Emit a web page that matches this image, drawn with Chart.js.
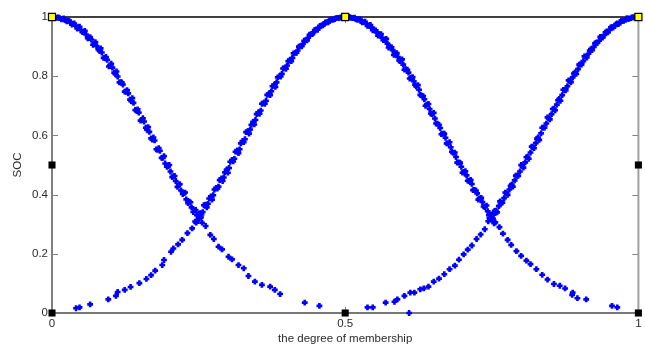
<!DOCTYPE html>
<html><head><meta charset="utf-8">
<script src="https://cdn.jsdelivr.net/npm/chart.js@4"></script>
<style>html,body{margin:0;padding:0;background:#fff;overflow:hidden}</style>
</head><body>
<canvas id="c" width="645" height="347"></canvas>
<script>
// ---- data ----
const degA=[0.000,0.004,0.009,0.013,0.018,0.022,0.027,0.031,0.036,0.040,0.045,0.049,0.054,0.058,0.063,0.067,0.072,0.076,0.081,0.085,0.090,0.094,0.099,0.103,0.108,0.112,0.117,0.121,0.126,0.130,0.135,0.139,0.144,0.148,0.153,0.157,0.162,0.166,0.171,0.175,0.180,0.184,0.189,0.193,0.198,0.202,0.207,0.211,0.216,0.220,0.225,0.229,0.234,0.238,0.243,0.247,0.252,0.256,0.262,0.270,0.276,0.284,0.290,0.301,0.307,0.318,0.327,0.335,0.346,0.358,0.372,0.380,0.389,0.431,0.456];
const socA=[1.000,0.999,0.998,0.996,0.994,0.990,0.987,0.983,0.976,0.971,0.965,0.957,0.949,0.941,0.929,0.924,0.910,0.902,0.886,0.880,0.862,0.855,0.836,0.829,0.808,0.799,0.780,0.772,0.748,0.742,0.716,0.710,0.684,0.677,0.652,0.647,0.619,0.612,0.586,0.583,0.551,0.548,0.524,0.505,0.496,0.478,0.462,0.446,0.434,0.414,0.405,0.384,0.376,0.357,0.347,0.330,0.322,0.305,0.294,0.264,0.250,0.224,0.215,0.190,0.181,0.162,0.151,0.125,0.106,0.095,0.089,0.078,0.064,0.035,0.024];
const degA2=[0.002,0.007,0.011,0.016,0.020,0.025,0.029,0.034,0.038,0.043,0.047,0.052,0.056,0.061,0.065,0.070,0.074,0.079,0.083,0.088,0.092,0.097,0.101,0.106,0.110,0.115,0.119,0.124,0.128,0.133,0.137,0.142,0.146,0.151,0.155,0.160,0.164,0.169,0.173,0.178,0.182,0.187,0.191,0.196,0.200,0.205,0.209,0.214,0.218,0.223,0.227,0.232,0.236,0.241,0.245,0.250,0.254];
const socA2=[1.000,0.997,0.999,0.992,0.995,0.985,0.988,0.974,0.978,0.961,0.967,0.949,0.953,0.928,0.932,0.906,0.915,0.890,0.894,0.862,0.865,0.833,0.842,0.812,0.816,0.779,0.779,0.748,0.753,0.721,0.726,0.686,0.688,0.650,0.658,0.626,0.628,0.590,0.593,0.553,0.557,0.524,0.530,0.494,0.500,0.459,0.463,0.426,0.435,0.402,0.407,0.371,0.374,0.341,0.348,0.317,0.323];

const degB=[0.041,0.047,0.065,0.096,0.109,0.112,0.124,0.134,0.149,0.161,0.169,0.176,0.188,0.191,0.203,0.207,0.215,0.222,0.231,0.239,
0.244,0.248,0.253,0.257,0.262,0.266,0.271,0.275,0.280,0.284,0.289,0.293,0.298,0.302,0.307,0.311,0.316,0.320,0.325,0.329,0.334,0.338,0.343,0.347,0.352,0.356,0.361,0.365,0.370,0.374,0.379,0.383,0.388,0.392,0.397,0.401,0.406,0.410,0.415,0.419,0.424,0.428,0.433,0.437,0.442,0.446,0.451,0.455,0.460,0.464,0.469,0.473,0.478,0.482,0.487,0.491,0.496,0.500,
0.504,0.509,0.513,0.518,0.522,0.527,0.531,0.536,0.540,0.545,0.549,0.554,0.558,0.563,0.567,0.572,0.576,0.581,0.585,0.590,0.594,0.599,0.603,0.608,0.612,0.617,0.621,0.626,0.630,0.635,0.639,0.644,0.648,0.653,0.657,0.662,0.666,0.671,0.675,0.680,0.684,0.689,0.693,0.698,0.702,0.707,0.711,0.716,0.720,0.725,0.729,0.734,0.738,0.743,0.747,0.752,0.756,
0.763,0.769,0.777,0.783,0.792,0.800,0.809,0.816,0.826,0.836,0.845,0.856,0.866,0.875,0.887,0.888,0.896,0.911,0.955,0.964];
const socB=[0.016,0.019,0.029,0.046,0.058,0.071,0.078,0.088,0.101,0.115,0.128,0.143,0.162,0.179,0.207,0.218,0.232,0.247,0.270,0.286,
0.309,0.313,0.337,0.341,0.366,0.369,0.394,0.398,0.423,0.427,0.455,0.458,0.485,0.490,0.517,0.521,0.549,0.553,0.581,0.587,0.614,0.620,0.646,0.652,0.678,0.684,0.709,0.717,0.741,0.749,0.771,0.779,0.800,0.808,0.828,0.836,0.855,0.862,0.879,0.887,0.902,0.909,0.923,0.930,0.942,0.948,0.958,0.963,0.972,0.976,0.983,0.986,0.991,0.993,0.997,0.998,1.000,1.000,
0.999,0.998,0.996,0.993,0.991,0.986,0.983,0.977,0.971,0.964,0.958,0.948,0.942,0.930,0.922,0.910,0.900,0.888,0.877,0.865,0.851,0.839,0.824,0.812,0.795,0.783,0.766,0.754,0.735,0.722,0.704,0.689,0.672,0.657,0.640,0.625,0.606,0.592,0.573,0.560,0.541,0.527,0.509,0.494,0.477,0.465,0.446,0.436,0.416,0.404,0.387,0.375,0.358,0.344,0.332,0.319,0.306,
0.290,0.268,0.247,0.230,0.209,0.193,0.177,0.165,0.148,0.129,0.113,0.098,0.092,0.083,0.061,0.069,0.050,0.046,0.024,0.019];
const degB2=[0.246,0.250,0.255,0.259,0.264,0.268,0.273,0.277,0.282,0.286,0.291,0.295,0.300,0.304,0.309,0.313,0.318,0.322,0.327,0.331,0.336,0.340,0.345,0.349,0.354,0.358,0.363,0.367,0.372,0.376,0.381,0.385,0.390,0.394,0.399,0.403,0.408,0.412,0.417,0.421,0.426,0.430,0.435,0.439,0.444,0.448,0.453,0.457,0.462,0.466,0.471,0.475,0.480,0.484,0.489,0.493,0.498,
0.502,0.507,0.511,0.516,0.520,0.525,0.529,0.534,0.538,0.543,0.547,0.552,0.556,0.561,0.565,0.570,0.574,0.579,0.583,0.588,0.592,0.597,0.601,0.606,0.610,0.615,0.619,0.624,0.628,0.633,0.637,0.642,0.646,0.651,0.655,0.660,0.664,0.669,0.673,0.678,0.682,0.687,0.691,0.696,0.700,0.705,0.709,0.714,0.718,0.723,0.727,0.732,0.736,0.741,0.745,0.750,0.754];
const socB2=[0.305,0.335,0.333,0.364,0.357,0.387,0.383,0.417,0.420,0.449,0.446,0.475,0.474,0.511,0.512,0.545,0.540,0.573,0.577,0.611,0.606,0.636,0.637,0.672,0.673,0.707,0.707,0.737,0.736,0.766,0.764,0.796,0.799,0.826,0.825,0.851,0.851,0.877,0.879,0.900,0.901,0.920,0.921,0.940,0.942,0.956,0.957,0.970,0.972,0.982,0.982,0.991,0.991,0.996,0.997,0.999,1.000,
1.000,1.000,0.997,0.998,0.991,0.993,0.982,0.984,0.970,0.973,0.955,0.955,0.937,0.942,0.922,0.926,0.897,0.898,0.872,0.878,0.853,0.857,0.822,0.822,0.792,0.797,0.771,0.770,0.737,0.733,0.700,0.706,0.674,0.676,0.640,0.636,0.604,0.606,0.573,0.577,0.545,0.542,0.508,0.508,0.474,0.479,0.447,0.450,0.415,0.414,0.383,0.389,0.360,0.363,0.330,0.333,0.303];

const degC=[0.538,0.547,0.569,0.584,0.589,0.601,0.609,0.611,0.618,0.628,0.634,0.642,0.651,0.660,0.669,0.678,0.687,0.694,0.702,0.709,0.716,0.724,0.731,0.738,
0.744,0.748,0.753,0.757,0.762,0.766,0.771,0.775,0.780,0.784,0.789,0.793,0.798,0.802,0.807,0.811,0.816,0.820,0.825,0.829,0.834,0.838,0.843,0.847,0.852,0.856,0.861,0.865,0.870,0.874,0.879,0.883,0.888,0.892,0.897,0.901,0.906,0.910,0.915,0.919,0.924,0.928,0.933,0.937,0.942,0.946,0.951,0.955,0.960,0.964,0.969,0.973,0.978,0.982,0.987,0.991,0.996,1.000];
const socC=[0.019,0.019,0.035,0.038,0.046,0.058,0.000,0.069,0.069,0.080,0.083,0.089,0.106,0.116,0.131,0.148,0.160,0.180,0.198,0.214,0.228,0.250,0.265,0.283,
0.310,0.318,0.332,0.346,0.361,0.372,0.388,0.404,0.417,0.434,0.448,0.464,0.478,0.496,0.509,0.528,0.542,0.560,0.574,0.593,0.607,0.626,0.640,0.658,0.672,0.690,0.704,0.723,0.736,0.754,0.766,0.784,0.796,0.813,0.824,0.840,0.851,0.866,0.876,0.891,0.899,0.913,0.920,0.933,0.939,0.951,0.956,0.966,0.970,0.978,0.981,0.988,0.990,0.995,0.996,0.999,0.999,1.000];
const degC2=[0.746,0.750,0.755,0.759,0.764,0.768,0.773,0.777,0.782,0.786,0.791,0.795,0.800,0.804,0.809,0.813,0.818,0.822,0.827,0.831,0.836,0.840,0.845,0.849,0.854,0.858,0.863,0.867,0.872,0.876,0.881,0.885,0.890,0.894,0.899,0.903,0.908,0.912,0.917,0.921,0.926,0.930,0.935,0.939,0.944,0.948,0.953,0.957,0.962,0.966,0.971,0.975,0.980,0.984,0.989,0.993,0.998];
const socC2=[0.321,0.315,0.345,0.340,0.377,0.373,0.407,0.399,0.430,0.427,0.464,0.463,0.500,0.491,0.526,0.521,0.562,0.557,0.589,0.585,0.626,0.626,0.661,0.654,0.689,0.685,0.719,0.717,0.754,0.752,0.786,0.780,0.809,0.808,0.839,0.839,0.867,0.863,0.887,0.888,0.911,0.912,0.933,0.930,0.948,0.948,0.965,0.964,0.976,0.976,0.988,0.987,0.995,0.994,0.999,0.999,1.000];

const anchorDeg=[0,0,0,0.5,0.5,1,1,1];
const anchorSoc=[0,0.5,1,0,1,0,0.5,1];
const peakDeg=[0,0.5,1];
const peakSoc=[1,1,1];

const xTickValues=[0,0.5,1];
const xTickLabels=['0','0.5','1'];
const yTickValues=[0,0.2,0.4,0.6,0.8,1];
const yTickLabels=['0','0.2','0.4','0.6','0.8','1'];
const xTitle='the degree of membership';
const yTitle='SOC';

// ---- chart ----
const pts=(xs,ys)=>xs.map((x,i)=>({x:x,y:ys[i]}));
const FONT={family:"'Liberation Sans', Arial, Helvetica, sans-serif", size:11.5};
const TXT='#2b2b2b';
const BLUE='#0000ff';

const framePlugin={
  id:'frame',
  beforeDatasetsDraw(chart){
    const ctx=chart.ctx, a=chart.chartArea, x=chart.scales.x, y=chart.scales.y;
    ctx.save();
    ctx.strokeStyle='#808080'; ctx.lineWidth=1;
    ctx.beginPath();
    yTickValues.forEach(v=>{
      const py=Math.round(y.getPixelForValue(v))+0.5;
      ctx.moveTo(a.left,py); ctx.lineTo(a.left+6,py);
      ctx.moveTo(a.right,py); ctx.lineTo(a.right-6,py);
    });
    xTickValues.forEach(v=>{
      const px=Math.round(x.getPixelForValue(v))+0.5;
      ctx.moveTo(px,a.bottom); ctx.lineTo(px,a.bottom-6);
      ctx.moveTo(px,a.top); ctx.lineTo(px,a.top+6);
    });
    ctx.stroke();
    ctx.lineWidth=2;
    ctx.strokeStyle='#808080';
    ctx.beginPath(); ctx.moveTo(a.left,a.top); ctx.lineTo(a.left,a.bottom); ctx.stroke();
    ctx.strokeStyle='#787878';
    ctx.beginPath(); ctx.moveTo(a.left,a.bottom); ctx.lineTo(a.right,a.bottom); ctx.stroke();
    ctx.strokeStyle='#a0a0a0';
    ctx.beginPath(); ctx.moveTo(a.right,a.top); ctx.lineTo(a.right,a.bottom); ctx.stroke();
    ctx.strokeStyle='#000000'; ctx.lineWidth=1.5;
    ctx.beginPath(); ctx.moveTo(a.left,a.top); ctx.lineTo(a.right,a.top); ctx.stroke();
    ctx.restore();
  }
};

const curve=(xs,ys)=>({data:pts(xs,ys),pointStyle:'cross',pointRadius:2.9,pointBorderWidth:2.6,borderColor:BLUE,backgroundColor:BLUE,pointBorderColor:BLUE,clip:false,showLine:false});

new Chart(document.getElementById('c'),{
  type:'scatter',
  data:{datasets:[
    {data:pts(peakDeg,peakSoc),pointStyle:'rect',pointRadius:5,pointBackgroundColor:'#ffff00',pointBorderColor:'#000000',pointBorderWidth:1.2,clip:false},
    {data:pts(anchorDeg,anchorSoc),pointStyle:'rect',pointRadius:5,pointBackgroundColor:'#000000',pointBorderColor:'#000000',pointBorderWidth:0,clip:false},
    curve(degA,socA),
    curve(degA2,socA2),
    curve(degB,socB),
    curve(degB2,socB2),
    curve(degC,socC),
    curve(degC2,socC2)
  ]},
  options:{
    responsive:false,
    devicePixelRatio:1,
    animation:false,
    events:[],
    layout:{padding:{top:17,right:2,left:0,bottom:0}},
    plugins:{legend:{display:false},tooltip:{enabled:false}},
    scales:{
      x:{
        type:'linear',min:0,max:1,
        afterBuildTicks:s=>{s.ticks=xTickValues.map(v=>({value:v}));},
        afterFit:s=>{s.height=34;s.paddingLeft=0;s.paddingRight=0;},
        ticks:{callback:v=>xTickLabels[xTickValues.indexOf(v)],font:FONT,color:TXT,padding:4,maxRotation:0,autoSkip:false},
        grid:{display:false,drawTicks:false},
        border:{display:false},
        title:{display:true,text:xTitle,font:FONT,color:TXT,padding:{top:0,bottom:1}}
      },
      y:{
        type:'linear',min:0,max:1,
        afterBuildTicks:s=>{s.ticks=yTickValues.map(v=>({value:v}));},
        afterFit:s=>{s.width=52;s.paddingTop=0;s.paddingBottom=0;},
        ticks:{callback:v=>yTickLabels[yTickValues.indexOf(v)],font:FONT,color:TXT,padding:4,autoSkip:false},
        grid:{display:false,drawTicks:false},
        border:{display:false},
        title:{display:true,text:yTitle,font:FONT,color:TXT,padding:{top:11,bottom:0}}
      }
    }
  },
  plugins:[framePlugin]
});
</script>
</body></html>
